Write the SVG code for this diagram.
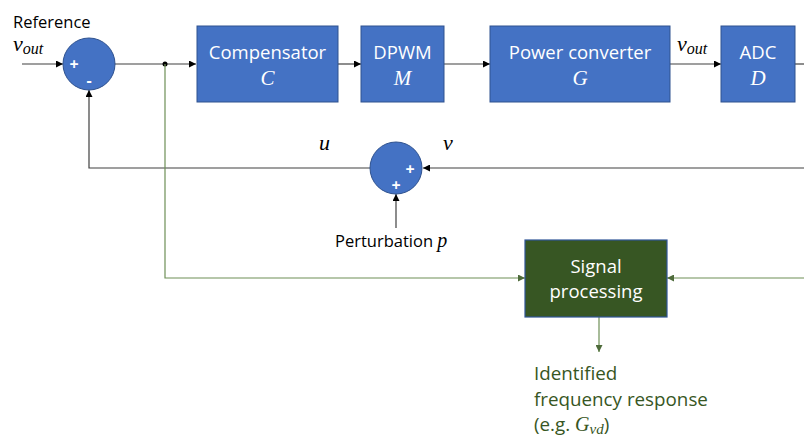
<svg xmlns="http://www.w3.org/2000/svg" width="804" height="436" viewBox="0 0 804 436">
  <style>
    .blk { fill: #4472C4; stroke: #2F528F; stroke-width: 1; }
    .sum { fill: #4472C4; stroke: #2F528F; stroke-width: 1; }
    .sp { fill: #375623; stroke: #2F5597; stroke-width: 1.2; }
    .lbl { font-family: "Open Sans", "Liberation Sans", sans-serif; font-size: 18.5px; fill: #FFFFFF; text-anchor: middle; }
    .math { font-family: "Liberation Serif", "DejaVu Serif", serif; font-style: italic; }
    .mw { fill: #FFFFFF; font-size: 21px; text-anchor: middle; }
    .mk { fill: #000000; }
    .txt { font-family: "Open Sans", "Liberation Sans", sans-serif; font-size: 16.5px; fill: #000000; }
    .gtxt { font-family: "Open Sans", "Liberation Sans", sans-serif; font-size: 18.8px; fill: #375623; }
    .sign { font-family: "Open Sans", "Liberation Sans", sans-serif; font-size: 16px; font-weight: bold; fill: #FFFFFF; text-anchor: middle; }
    .wire { fill: none; stroke: #404040; stroke-width: 1.2; }
    .gwire { fill: none; stroke: #6E8F57; stroke-width: 1.2; }
  </style>
  <defs>
    <marker id="ah" viewBox="0 0 10 10" refX="10" refY="5" markerWidth="7" markerHeight="7" orient="auto" markerUnits="userSpaceOnUse">
      <path d="M0,0 L10,5 L0,10 z" fill="#000000"/>
    </marker>
    <marker id="ahg" viewBox="0 0 10 10" refX="10" refY="5" markerWidth="7" markerHeight="7" orient="auto" markerUnits="userSpaceOnUse">
      <path d="M0,0 L10,5 L0,10 z" fill="#4E6B3A"/>
    </marker>
  </defs>

  <!-- connectors -->
  <g id="connectors">
    <path class="wire" d="M22,64 H63" marker-end="url(#ah)"/>
    <path class="wire" d="M115,64 H196" marker-end="url(#ah)"/>
    <circle cx="165" cy="64" r="2.5" fill="#000000"/>
    <path class="wire" d="M338,64 H361" marker-end="url(#ah)"/>
    <path class="wire" d="M444,64 H490" marker-end="url(#ah)"/>
    <path class="wire" d="M670,64 H721" marker-end="url(#ah)"/>
    <path class="wire" d="M795,64 H804"/>
    <path class="wire" d="M804,168 H423" marker-end="url(#ah)"/>
    <path class="wire" d="M370,168 H89 V90" marker-end="url(#ah)"/>
    <path class="wire" d="M396,228 V194" marker-end="url(#ah)"/>
    <path class="gwire" d="M165,64 V278 H525" marker-end="url(#ahg)"/>
    <path class="gwire" d="M804,278 H667" marker-end="url(#ahg)"/>
    <path class="gwire" d="M599,317 V352" marker-end="url(#ahg)"/>
  </g>

  <!-- reference input -->
  <g id="reference">
    <text class="txt" x="13" y="28">Reference</text>
    <text class="math mk" x="13" y="51" font-size="22">v<tspan font-size="16" dy="3">out</tspan></text>
  </g>

  <!-- summing junction 1 -->
  <g id="sum1">
    <circle class="sum" cx="89" cy="64" r="26"/>
    <text class="sign" x="74" y="70">+</text>
    <text class="sign" x="89" y="86">-</text>
  </g>

  <g id="compensator">
    <rect class="blk" x="197" y="26" width="141" height="76"/>
    <text class="lbl" x="267.5" y="59">Compensator</text>
    <text class="math mw" x="267.5" y="85">C</text>
  </g>

  <g id="dpwm">
    <rect class="blk" x="361" y="26" width="83" height="76"/>
    <text class="lbl" x="402.5" y="59">DPWM</text>
    <text class="math mw" x="402.5" y="85">M</text>
  </g>

  <g id="converter">
    <rect class="blk" x="490" y="26" width="180" height="76"/>
    <text class="lbl" x="580" y="59">Power converter</text>
    <text class="math mw" x="580" y="85">G</text>
  </g>

  <text class="math mk" x="677" y="51" font-size="22">v<tspan font-size="16" dy="3">out</tspan></text>

  <g id="adc">
    <rect class="blk" x="721" y="26" width="74" height="76"/>
    <text class="lbl" x="758" y="59">ADC</text>
    <text class="math mw" x="758" y="85">D</text>
  </g>

  <!-- perturbation injection -->
  <g id="sum2">
    <circle class="sum" cx="396" cy="168" r="26"/>
    <text class="sign" x="410" y="175">+</text>
    <text class="sign" x="396" y="191">+</text>
  </g>
  <text class="math mk" x="319" y="150" font-size="22">u</text>
  <text class="math mk" x="443" y="150" font-size="22">v</text>
  <text class="txt" x="335" y="247">Perturbation <tspan class="math" font-size="20">p</tspan></text>

  <g id="signal-processing">
    <rect class="sp" x="525" y="240" width="142" height="77"/>
    <text class="lbl" x="596" y="273">Signal</text>
    <text class="lbl" x="596" y="298">processing</text>
  </g>

  <g id="result">
    <text class="gtxt" x="534" y="380">Identified</text>
    <text class="gtxt" x="534" y="406">frequency response</text>
    <text class="gtxt" x="534" y="431">(e.g. <tspan class="math" font-size="20">G</tspan><tspan class="math" font-size="15" dy="3">vd</tspan><tspan dy="-3">)</tspan></text>
  </g>
</svg>
